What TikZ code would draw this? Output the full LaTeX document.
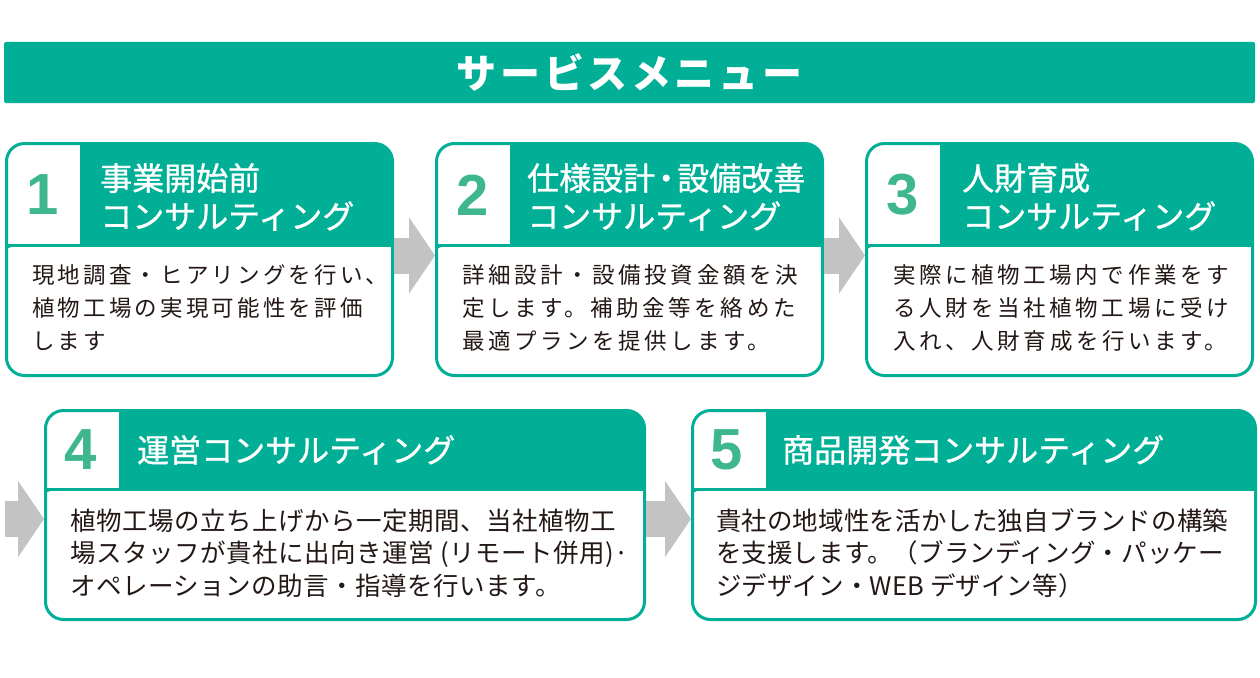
\documentclass[tikz,border=0pt]{standalone}
\usepackage{fontspec}
\setmainfont{Noto Sans CJK JP}
\newfontfamily\numfont{Liberation Sans}
\newfontfamily\headfont[FakeBold=1]{Noto Sans CJK JP}
\newfontfamily\bodyfont{Noto Sans CJK JP}
\usepackage{xcolor}
\usepackage{tikz}
\usetikzlibrary{arrows.meta, positioning}

\definecolor{svgreen}{HTML}{00AF96}
\definecolor{numgreen}{HTML}{3EB690}
\definecolor{arrowgray}{HTML}{C3C3C3}
\definecolor{ink}{HTML}{231815}

\begin{document}
\begin{tikzpicture}[x=1pt, y=-1pt,
    card/.style={rectangle, draw=svgreen, line width=3pt, fill=svgreen, rounded corners=18pt,
        inner sep=0pt, anchor=north west,
        path picture={
            \fill[white, rounded corners=5pt] ([yshift=-#1]path picture bounding box.north west)
                rectangle ([xshift=20pt, yshift=-20pt]path picture bounding box.south east);
            \fill[white, sharp corners] (path picture bounding box.north west)
                rectangle ([xshift=73pt, yshift={3pt-#1}]path picture bounding box.north west);
        }}]
    \tikzstyle{titlebar} = [rectangle, fill=svgreen, rounded corners=2pt, text=white, minimum width=1251pt, minimum height=61pt,
        font=\bfseries\addfontfeatures{LetterSpace=9}\fontsize{40}{40}\selectfont]
    \tikzstyle{num} = [text=numgreen, inner sep=0pt, font=\numfont\bfseries\fontsize{58}{58}\selectfont]
    \tikzstyle{head} = [text=white, anchor=west, align=left, inner sep=0pt, font=\headfont\fontsize{32}{38}\selectfont]
    \tikzstyle{body} = [text=ink, anchor=west, align=left, inner sep=0pt]
    \tikzstyle{flow} = [draw=arrowgray, line width=36pt, -{Triangle[length=26pt, width=75pt]}]

    \fill[white] (0,0) rectangle (1260,677);
    \useasboundingbox (0,0) rectangle (1260,677);

    \node [titlebar] (title) at (629.5,72.5) {サービスメニュー};

    % first row
    \node [card=103.5pt, minimum width=386pt, minimum height=232pt] (card1) at (5,142) {};
    \node [card=103.5pt, minimum width=386pt, minimum height=232pt, right=41pt of card1] (card2) {};
    \node [card=103.5pt, minimum width=386pt, minimum height=232pt, right=41pt of card2] (card3) {};

    \node [num] (num1) at ([xshift=38pt, yshift=-53pt]card1.north west) {1};
    \node [num] (num2) at ([xshift=38pt, yshift=-53pt]card2.north west) {2};
    \node [num] (num3) at ([xshift=38pt, yshift=-53pt]card3.north west) {3};

    \node [head] (head1) at ([xshift=95pt, yshift=-55pt]card1.north west) {事業開始前\\コンサルティング};
    \node [head] (head2) at ([xshift=92pt, yshift=-55pt]card2.north west) {仕様設計\kern-5pt・\kern-5pt設備改善\\コンサルティング};
    \node [head] (head3) at ([xshift=97pt, yshift=-55pt]card3.north west) {人財育成\\コンサルティング};

    \node [body, font=\bodyfont\addfontfeatures{LetterSpace=14}\fontsize{22.5}{33}\selectfont] (text1)
        at ([xshift=27pt, yshift=-166pt]card1.north west) {現地調査・ヒアリングを行い、\\植物工場の実現可能性を評価\\します};
    \node [body, font=\bodyfont\addfontfeatures{LetterSpace=16}\fontsize{22.5}{33}\selectfont] (text2)
        at ([xshift=27pt, yshift=-166pt]card2.north west) {詳細設計・設備投資金額を決\\定します。補助金等を絡めた\\最適プランを提供します。};
    \node [body, font=\bodyfont\addfontfeatures{LetterSpace=16}\fontsize{22.5}{33}\selectfont] (text3)
        at ([xshift=28pt, yshift=-166pt]card3.north west) {実際に植物工場内で作業をす\\る人財を当社植物工場に受け\\入れ、人財育成を行います。};

    % second row
    \node [card=80.5pt, minimum width=599pt, minimum height=209pt] (card4) at (44,409) {};
    \node [card=80.5pt, minimum width=563pt, minimum height=209pt, right=45pt of card4] (card5) {};

    \node [num] (num4) at ([xshift=37pt, yshift=-41pt]card4.north west) {4};
    \node [num] (num5) at ([xshift=36pt, yshift=-41pt]card5.north west) {5};

    \node [head] (head4) at ([xshift=93pt, yshift=-41pt]card4.north west) {運営コンサルティング};
    \node [head] (head5) at ([xshift=91pt, yshift=-41pt]card5.north west) {商品開発コンサルティング};

    \node [body, font=\bodyfont\addfontfeatures{LetterSpace=2}\fontsize{25.5}{32.5}\selectfont] (text4)
        at ([xshift=26pt, yshift=-144pt]card4.north west) {植物工場の立ち上げから一定期間、当社植物工\\場スタッフが貴社に出向き運営 (リモート併用)·\\オペレーションの助言・指導を行います。};
    \node [body, font=\bodyfont\addfontfeatures{LetterSpace=0.4}\fontsize{25.5}{32.5}\selectfont] (text5)
        at ([xshift=25pt, yshift=-144pt]card5.north west) {貴社の地域性を活かした独自ブランドの構築\\を支援します。（ブランディング・パッケー\\ジデザイン・WEB デザイン等）};

    % arrows
    \coordinate (feed) at (5,519);
    \draw [flow] ([yshift=4pt]card1.east) -- ([yshift=4pt]card2.west);
    \draw [flow] ([yshift=4pt]card2.east) -- ([yshift=4pt]card3.west);
    \draw [flow] (feed) -- (feed -| card4.west);
    \draw [flow] ([yshift=-4pt]card4.east) -- ([yshift=-4pt]card5.west);
\end{tikzpicture}
\end{document}
